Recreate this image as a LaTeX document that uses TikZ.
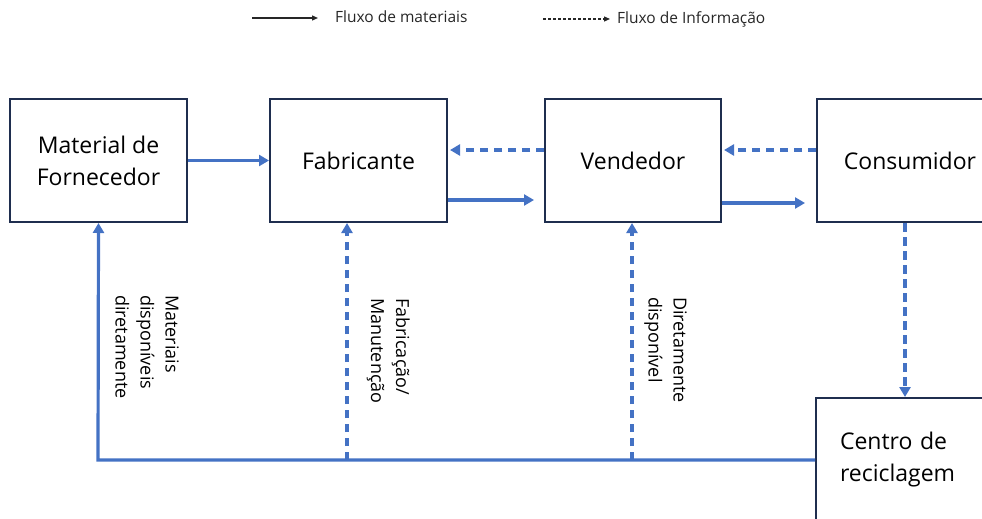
\documentclass[tikz,border=0pt]{standalone}
\usepackage{fontspec}
\setmainfont{Open Sans}
\usetikzlibrary{arrows.meta}
\definecolor{boxline}{HTML}{1F2E4F}
\definecolor{flow}{HTML}{4472C4}
\begin{document}
\begin{tikzpicture}[x=1pt,y=-1pt,
  box/.style={draw=boxline,line width=2pt,minimum width=177pt,minimum height=123pt,inner sep=0pt,align=center,
    font=\fontsize{23}{32}\selectfont},
  mat/.style={draw=flow,line width=3.2pt,-{Triangle[length=10pt,width=11pt]}},
  info/.style={draw=flow,line width=3.2pt,dash pattern=on 8.5pt off 5.5pt,-{Triangle[length=10pt,width=11pt]}},
  lab/.style={rotate=-90,anchor=north west,inner sep=0pt,align=left,font=\fontsize{18}{25}\selectfont},
  leg/.style={anchor=west,inner sep=0pt,font=\fontsize{15.5}{18}\selectfont,text=black!85}]
\useasboundingbox (0,0) rectangle (982,519);
\clip (0,0) rectangle (982,519);
% legend
\coordinate (l1a) at (252,18); \coordinate (l1b) at (318,18);
\coordinate (l2a) at (543,19); \coordinate (l2b) at (610,19);
\draw[black!85,line width=1.3pt,-{Triangle[length=6pt,width=5pt]}] (l1a) -- (l1b);
\node[leg] (legm) at (335,17) {Fluxo de materiais};
\draw[black!85,line width=1.2pt,dash pattern=on 3pt off 2pt,-{Triangle[length=6pt,width=5pt]}] (l2a) -- (l2b);
\node[leg] (legi) at (617,19) {Fluxo de Informação};
% boxes
\node[box] (matf) at (98.5,160.5) {Material de\\Fornecedor};
\node[box] (fab) at (358.5,160.5) {Fabricante};
\node[box,minimum width=176pt] (vend) at (633,160.5) {Vendedor};
\node[box,minimum width=186pt] (cons) at (910,160.5) {Consumidor};
\node[box,minimum width=200pt,minimum height=124pt,align=left,text width=176pt] (rec) at (916,460) {\hspace*{12pt}Centro de\\\hspace*{12pt}reciclagem};
% horizontal flows
\draw[mat] (matf.east) -- (fab.west);
\draw[info,shorten >=2pt] ([yshift=10.5pt]vend.west) -- ([yshift=10.5pt]fab.east);
\draw[mat,shorten >=10pt] ([yshift=-39.5pt]fab.east) -- ([yshift=-39.5pt]vend.west);
\draw[info,shorten >=2pt] ([yshift=10.5pt]cons.west) -- ([yshift=10.5pt]vend.east);
\draw[mat,shorten >=11pt] ([yshift=-42.5pt]vend.east) -- ([yshift=-42.5pt]cons.west);
% consumer to recycling
\draw[info] ([xshift=-5pt]cons.south) -- ([xshift=-11pt]rec.north);
% return line
\coordinate (c1) at (98,460);
\coordinate (c2) at (347,460);
\coordinate (c3) at (632,460);
\draw[mat] (rec.west) -- (c1) -- (matf.south);
\draw[info] (c2) -- (c2 |- fab.south);
\draw[info] (c3) -- (c3 |- vend.south);
% labels
\node[lab] (l1) at (179,295) {Materiais\\disponíveis\\diretamente};
\node[lab] (l2) at (410,298) {Fabricação/\\Manutenção};
\node[lab] (l3) at (687,297) {Diretamente\\disponível};
\end{tikzpicture}
\end{document}
